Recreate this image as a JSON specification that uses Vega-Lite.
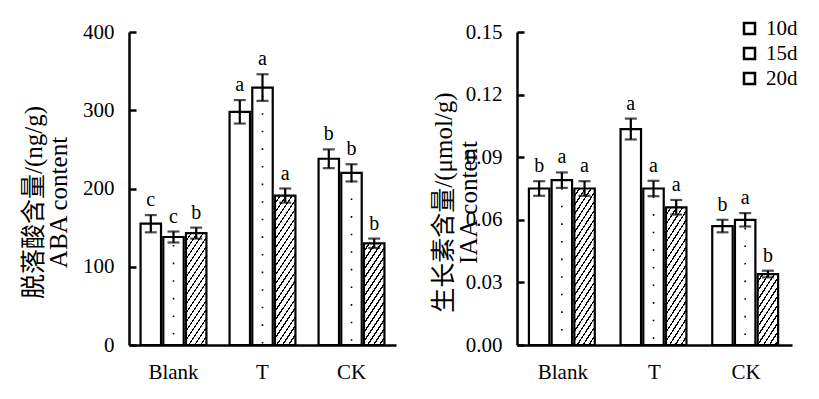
{
  "$schema": "https://vega.github.io/schema/vega-lite/v6.json",
  "padding": {"left": 21, "top": 18, "right": 5, "bottom": 5},
  "background": "#ffffff",
  "config": {
    "view": {"stroke": null},
    "font": "Liberation Serif, Noto Sans CJK SC",
    "text": {"font": "Liberation Serif"},
    "legend": {"labelFont": "Liberation Serif"},
    "axis": {
      "domainColor": "#000", "domainWidth": 2.5, "tickColor": "#000", "tickWidth": 2.5,
      "labelFont": "Liberation Serif", "titleFont": "Liberation Serif, Noto Sans CJK SC",
      "labelColor": "#000", "titleColor": "#000", "titleFontWeight": "normal", "grid": false
    },
    "axisX": {"ticks": false, "labelFontSize": 21, "labelPadding": 16, "labelAngle": 0, "title": null},
    "axisY": {
      "tickSize": -7, "labelFontSize": 21, "labelPadding": 22,
      "titleFontSize": 25, "titleLineHeight": 25, "titleAngle": -90,
      "titleBaseline": "middle", "titleAlign": "center"
    }
  },
  "spacing": 35,
  "resolve": {"scale": {"fill": "independent"}, "legend": {"fill": "independent"}},
  "hconcat": [
    {
      "width": 267,
      "height": 313,
      "data": {"values": [
        {"g": "Blank", "day": "10d", "v": 155, "lo": 144, "hi": 166, "sig": "c"},
        {"g": "Blank", "day": "15d", "v": 138, "lo": 131, "hi": 145, "sig": "c"},
        {"g": "Blank", "day": "20d", "v": 143, "lo": 136, "hi": 150, "sig": "b"},
        {"g": "T", "day": "10d", "v": 298, "lo": 283, "hi": 313, "sig": "a"},
        {"g": "T", "day": "15d", "v": 329, "lo": 312, "hi": 346, "sig": "a"},
        {"g": "T", "day": "20d", "v": 191, "lo": 182, "hi": 200, "sig": "a"},
        {"g": "CK", "day": "10d", "v": 238, "lo": 226, "hi": 250, "sig": "b"},
        {"g": "CK", "day": "15d", "v": 220, "lo": 209, "hi": 231, "sig": "b"},
        {"g": "CK", "day": "20d", "v": 130, "lo": 124, "hi": 136, "sig": "b"}
      ]},
      "encoding": {
        "x": {"field": "g", "type": "nominal", "sort": ["Blank", "T", "CK"],
              "scale": {"paddingInner": 0.26, "paddingOuter": 0.13}, "axis": {"title": null}},
        "xOffset": {"field": "day", "type": "nominal", "sort": ["10d", "15d", "20d"],
                    "scale": {"domain": ["10d", "15d", "20d"], "paddingInner": 0.1, "paddingOuter": 0}}
      },
      "layer": [
        {
          "mark": {"type": "bar", "stroke": "#000", "strokeWidth": 2.2},
          "encoding": {
            "y": {"field": "v", "type": "quantitative", "scale": {"domain": [0, 400], "nice": false},
                  "axis": {"values": [0, 100, 200, 300, 400], "title": ["脱落酸含量/(ng/g)", "ABA content"],
                           "titleX": -96, "titleY": 170}},
            "fill": {
              "field": "day", "type": "nominal",
              "scale": {"domain": ["10d", "15d", "20d"], "range": ["#fff", "#fff", "#fff"]},
              "legend": null,
              "condition": [
                {"test": "datum.g === 'Blank' && datum.day === '20d'",
                 "value": {"gradient": "linear", "x1": 0, "y1": 0, "x2": 0.451, "y2": 1.6459, "stops": [{"offset":0,"color":"#fff"},{"offset":0.0341,"color":"#fff"},{"offset":0.0341,"color":"#000"},{"offset":0.0455,"color":"#000"},{"offset":0.0455,"color":"#fff"},{"offset":0.0795,"color":"#fff"},{"offset":0.0795,"color":"#000"},{"offset":0.0909,"color":"#000"},{"offset":0.0909,"color":"#fff"},{"offset":0.125,"color":"#fff"},{"offset":0.125,"color":"#000"},{"offset":0.1364,"color":"#000"},{"offset":0.1364,"color":"#fff"},{"offset":0.1705,"color":"#fff"},{"offset":0.1705,"color":"#000"},{"offset":0.1818,"color":"#000"},{"offset":0.1818,"color":"#fff"},{"offset":0.2159,"color":"#fff"},{"offset":0.2159,"color":"#000"},{"offset":0.2273,"color":"#000"},{"offset":0.2273,"color":"#fff"},{"offset":0.2614,"color":"#fff"},{"offset":0.2614,"color":"#000"},{"offset":0.2727,"color":"#000"},{"offset":0.2727,"color":"#fff"},{"offset":0.3068,"color":"#fff"},{"offset":0.3068,"color":"#000"},{"offset":0.3182,"color":"#000"},{"offset":0.3182,"color":"#fff"},{"offset":0.3523,"color":"#fff"},{"offset":0.3523,"color":"#000"},{"offset":0.3636,"color":"#000"},{"offset":0.3636,"color":"#fff"},{"offset":0.3977,"color":"#fff"},{"offset":0.3977,"color":"#000"},{"offset":0.4091,"color":"#000"},{"offset":0.4091,"color":"#fff"},{"offset":0.4432,"color":"#fff"},{"offset":0.4432,"color":"#000"},{"offset":0.4545,"color":"#000"},{"offset":0.4545,"color":"#fff"},{"offset":0.4886,"color":"#fff"},{"offset":0.4886,"color":"#000"},{"offset":0.5,"color":"#000"},{"offset":0.5,"color":"#fff"},{"offset":0.5341,"color":"#fff"},{"offset":0.5341,"color":"#000"},{"offset":0.5455,"color":"#000"},{"offset":0.5455,"color":"#fff"},{"offset":0.5795,"color":"#fff"},{"offset":0.5795,"color":"#000"},{"offset":0.5909,"color":"#000"},{"offset":0.5909,"color":"#fff"},{"offset":0.625,"color":"#fff"},{"offset":0.625,"color":"#000"},{"offset":0.6364,"color":"#000"},{"offset":0.6364,"color":"#fff"},{"offset":0.6705,"color":"#fff"},{"offset":0.6705,"color":"#000"},{"offset":0.6818,"color":"#000"},{"offset":0.6818,"color":"#fff"},{"offset":0.7159,"color":"#fff"},{"offset":0.7159,"color":"#000"},{"offset":0.7273,"color":"#000"},{"offset":0.7273,"color":"#fff"},{"offset":0.7614,"color":"#fff"},{"offset":0.7614,"color":"#000"},{"offset":0.7727,"color":"#000"},{"offset":0.7727,"color":"#fff"},{"offset":0.8068,"color":"#fff"},{"offset":0.8068,"color":"#000"},{"offset":0.8182,"color":"#000"},{"offset":0.8182,"color":"#fff"},{"offset":0.8523,"color":"#fff"},{"offset":0.8523,"color":"#000"},{"offset":0.8636,"color":"#000"},{"offset":0.8636,"color":"#fff"},{"offset":0.8977,"color":"#fff"},{"offset":0.8977,"color":"#000"},{"offset":0.9091,"color":"#000"},{"offset":0.9091,"color":"#fff"},{"offset":0.9432,"color":"#fff"},{"offset":0.9432,"color":"#000"},{"offset":0.9545,"color":"#000"},{"offset":0.9545,"color":"#fff"},{"offset":0.9886,"color":"#fff"},{"offset":0.9886,"color":"#000"},{"offset":1,"color":"#000"}]}},
                {"test": "datum.g === 'T' && datum.day === '20d'",
                 "value": {"gradient": "linear", "x1": 0, "y1": 0, "x2": 0.2607, "y2": 1.271, "stops": [{"offset":0,"color":"#fff"},{"offset":0.0341,"color":"#fff"},{"offset":0.0341,"color":"#000"},{"offset":0.0455,"color":"#000"},{"offset":0.0455,"color":"#fff"},{"offset":0.0795,"color":"#fff"},{"offset":0.0795,"color":"#000"},{"offset":0.0909,"color":"#000"},{"offset":0.0909,"color":"#fff"},{"offset":0.125,"color":"#fff"},{"offset":0.125,"color":"#000"},{"offset":0.1364,"color":"#000"},{"offset":0.1364,"color":"#fff"},{"offset":0.1705,"color":"#fff"},{"offset":0.1705,"color":"#000"},{"offset":0.1818,"color":"#000"},{"offset":0.1818,"color":"#fff"},{"offset":0.2159,"color":"#fff"},{"offset":0.2159,"color":"#000"},{"offset":0.2273,"color":"#000"},{"offset":0.2273,"color":"#fff"},{"offset":0.2614,"color":"#fff"},{"offset":0.2614,"color":"#000"},{"offset":0.2727,"color":"#000"},{"offset":0.2727,"color":"#fff"},{"offset":0.3068,"color":"#fff"},{"offset":0.3068,"color":"#000"},{"offset":0.3182,"color":"#000"},{"offset":0.3182,"color":"#fff"},{"offset":0.3523,"color":"#fff"},{"offset":0.3523,"color":"#000"},{"offset":0.3636,"color":"#000"},{"offset":0.3636,"color":"#fff"},{"offset":0.3977,"color":"#fff"},{"offset":0.3977,"color":"#000"},{"offset":0.4091,"color":"#000"},{"offset":0.4091,"color":"#fff"},{"offset":0.4432,"color":"#fff"},{"offset":0.4432,"color":"#000"},{"offset":0.4545,"color":"#000"},{"offset":0.4545,"color":"#fff"},{"offset":0.4886,"color":"#fff"},{"offset":0.4886,"color":"#000"},{"offset":0.5,"color":"#000"},{"offset":0.5,"color":"#fff"},{"offset":0.5341,"color":"#fff"},{"offset":0.5341,"color":"#000"},{"offset":0.5455,"color":"#000"},{"offset":0.5455,"color":"#fff"},{"offset":0.5795,"color":"#fff"},{"offset":0.5795,"color":"#000"},{"offset":0.5909,"color":"#000"},{"offset":0.5909,"color":"#fff"},{"offset":0.625,"color":"#fff"},{"offset":0.625,"color":"#000"},{"offset":0.6364,"color":"#000"},{"offset":0.6364,"color":"#fff"},{"offset":0.6705,"color":"#fff"},{"offset":0.6705,"color":"#000"},{"offset":0.6818,"color":"#000"},{"offset":0.6818,"color":"#fff"},{"offset":0.7159,"color":"#fff"},{"offset":0.7159,"color":"#000"},{"offset":0.7273,"color":"#000"},{"offset":0.7273,"color":"#fff"},{"offset":0.7614,"color":"#fff"},{"offset":0.7614,"color":"#000"},{"offset":0.7727,"color":"#000"},{"offset":0.7727,"color":"#fff"},{"offset":0.8068,"color":"#fff"},{"offset":0.8068,"color":"#000"},{"offset":0.8182,"color":"#000"},{"offset":0.8182,"color":"#fff"},{"offset":0.8523,"color":"#fff"},{"offset":0.8523,"color":"#000"},{"offset":0.8636,"color":"#000"},{"offset":0.8636,"color":"#fff"},{"offset":0.8977,"color":"#fff"},{"offset":0.8977,"color":"#000"},{"offset":0.9091,"color":"#000"},{"offset":0.9091,"color":"#fff"},{"offset":0.9432,"color":"#fff"},{"offset":0.9432,"color":"#000"},{"offset":0.9545,"color":"#000"},{"offset":0.9545,"color":"#fff"},{"offset":0.9886,"color":"#fff"},{"offset":0.9886,"color":"#000"},{"offset":1,"color":"#000"}]}},
                {"test": "datum.g === 'CK' && datum.day === '20d'",
                 "value": {"gradient": "linear", "x1": 0, "y1": 0, "x2": 0.5381, "y2": 1.7847, "stops": [{"offset":0,"color":"#fff"},{"offset":0.0341,"color":"#fff"},{"offset":0.0341,"color":"#000"},{"offset":0.0455,"color":"#000"},{"offset":0.0455,"color":"#fff"},{"offset":0.0795,"color":"#fff"},{"offset":0.0795,"color":"#000"},{"offset":0.0909,"color":"#000"},{"offset":0.0909,"color":"#fff"},{"offset":0.125,"color":"#fff"},{"offset":0.125,"color":"#000"},{"offset":0.1364,"color":"#000"},{"offset":0.1364,"color":"#fff"},{"offset":0.1705,"color":"#fff"},{"offset":0.1705,"color":"#000"},{"offset":0.1818,"color":"#000"},{"offset":0.1818,"color":"#fff"},{"offset":0.2159,"color":"#fff"},{"offset":0.2159,"color":"#000"},{"offset":0.2273,"color":"#000"},{"offset":0.2273,"color":"#fff"},{"offset":0.2614,"color":"#fff"},{"offset":0.2614,"color":"#000"},{"offset":0.2727,"color":"#000"},{"offset":0.2727,"color":"#fff"},{"offset":0.3068,"color":"#fff"},{"offset":0.3068,"color":"#000"},{"offset":0.3182,"color":"#000"},{"offset":0.3182,"color":"#fff"},{"offset":0.3523,"color":"#fff"},{"offset":0.3523,"color":"#000"},{"offset":0.3636,"color":"#000"},{"offset":0.3636,"color":"#fff"},{"offset":0.3977,"color":"#fff"},{"offset":0.3977,"color":"#000"},{"offset":0.4091,"color":"#000"},{"offset":0.4091,"color":"#fff"},{"offset":0.4432,"color":"#fff"},{"offset":0.4432,"color":"#000"},{"offset":0.4545,"color":"#000"},{"offset":0.4545,"color":"#fff"},{"offset":0.4886,"color":"#fff"},{"offset":0.4886,"color":"#000"},{"offset":0.5,"color":"#000"},{"offset":0.5,"color":"#fff"},{"offset":0.5341,"color":"#fff"},{"offset":0.5341,"color":"#000"},{"offset":0.5455,"color":"#000"},{"offset":0.5455,"color":"#fff"},{"offset":0.5795,"color":"#fff"},{"offset":0.5795,"color":"#000"},{"offset":0.5909,"color":"#000"},{"offset":0.5909,"color":"#fff"},{"offset":0.625,"color":"#fff"},{"offset":0.625,"color":"#000"},{"offset":0.6364,"color":"#000"},{"offset":0.6364,"color":"#fff"},{"offset":0.6705,"color":"#fff"},{"offset":0.6705,"color":"#000"},{"offset":0.6818,"color":"#000"},{"offset":0.6818,"color":"#fff"},{"offset":0.7159,"color":"#fff"},{"offset":0.7159,"color":"#000"},{"offset":0.7273,"color":"#000"},{"offset":0.7273,"color":"#fff"},{"offset":0.7614,"color":"#fff"},{"offset":0.7614,"color":"#000"},{"offset":0.7727,"color":"#000"},{"offset":0.7727,"color":"#fff"},{"offset":0.8068,"color":"#fff"},{"offset":0.8068,"color":"#000"},{"offset":0.8182,"color":"#000"},{"offset":0.8182,"color":"#fff"},{"offset":0.8523,"color":"#fff"},{"offset":0.8523,"color":"#000"},{"offset":0.8636,"color":"#000"},{"offset":0.8636,"color":"#fff"},{"offset":0.8977,"color":"#fff"},{"offset":0.8977,"color":"#000"},{"offset":0.9091,"color":"#000"},{"offset":0.9091,"color":"#fff"},{"offset":0.9432,"color":"#fff"},{"offset":0.9432,"color":"#000"},{"offset":0.9545,"color":"#000"},{"offset":0.9545,"color":"#fff"},{"offset":0.9886,"color":"#fff"},{"offset":0.9886,"color":"#000"},{"offset":1,"color":"#000"}]}}
              ]
            }
          }
        },
        {
          "transform": [{"filter": "datum.day === '15d'"}],
          "mark": {"type": "rule", "color": "#000", "strokeWidth": 1.6, "strokeDash": [1.6, 16], "strokeDashOffset": -8},
          "encoding": {"y": {"field": "v", "type": "quantitative"}, "y2": {"datum": 0}}
        },
        {
          "mark": {"type": "rule", "color": "#000", "strokeWidth": 2.2},
          "encoding": {"y": {"field": "lo", "type": "quantitative"}, "y2": {"field": "hi"}}
        },
        {
          "mark": {"type": "tick", "color": "#000", "size": 12, "thickness": 2.2},
          "encoding": {"y": {"field": "lo", "type": "quantitative"}}
        },
        {
          "mark": {"type": "tick", "color": "#000", "size": 12, "thickness": 2.2},
          "encoding": {"y": {"field": "hi", "type": "quantitative"}}
        },
        {
          "mark": {"type": "text", "font": "Liberation Serif", "fontSize": 20, "baseline": "alphabetic", "dy": -9, "color": "#000"},
          "encoding": {"y": {"field": "hi", "type": "quantitative"}, "text": {"field": "sig", "type": "nominal"}}
        }
      ]
    },
    {
      "width": 275,
      "height": 313,
      "data": {"values": [
        {"g": "Blank", "day": "10d", "v": 0.075, "lo": 0.0715, "hi": 0.0785, "sig": "b"},
        {"g": "Blank", "day": "15d", "v": 0.079, "lo": 0.0753, "hi": 0.0827, "sig": "a"},
        {"g": "Blank", "day": "20d", "v": 0.075, "lo": 0.0715, "hi": 0.0785, "sig": "a"},
        {"g": "T", "day": "10d", "v": 0.1035, "lo": 0.0985, "hi": 0.1085, "sig": "a"},
        {"g": "T", "day": "15d", "v": 0.075, "lo": 0.0713, "hi": 0.0787, "sig": "a"},
        {"g": "T", "day": "20d", "v": 0.066, "lo": 0.0625, "hi": 0.0695, "sig": "a"},
        {"g": "CK", "day": "10d", "v": 0.057, "lo": 0.054, "hi": 0.06, "sig": "b"},
        {"g": "CK", "day": "15d", "v": 0.06, "lo": 0.0568, "hi": 0.0632, "sig": "a"},
        {"g": "CK", "day": "20d", "v": 0.034, "lo": 0.0324, "hi": 0.0356, "sig": "b"}
      ]},
      "encoding": {
        "x": {"field": "g", "type": "nominal", "sort": ["Blank", "T", "CK"],
              "scale": {"paddingInner": 0.26, "paddingOuter": 0.13}, "axis": {"title": null}},
        "xOffset": {"field": "day", "type": "nominal", "sort": ["10d", "15d", "20d"],
                    "scale": {"domain": ["10d", "15d", "20d"], "paddingInner": 0.1, "paddingOuter": 0}}
      },
      "layer": [
        {
          "mark": {"type": "bar", "stroke": "#000", "strokeWidth": 2.2},
          "encoding": {
            "y": {"field": "v", "type": "quantitative", "scale": {"domain": [0, 0.15], "nice": false},
                  "axis": {"values": [0, 0.03, 0.06, 0.09, 0.12, 0.15], "format": ".2f",
                           "title": ["生长素含量/(μmol/g)", "IAA content"], "titleX": -74, "titleY": 170}},
            "fill": {
              "field": "day", "type": "nominal",
              "scale": {"domain": ["10d", "15d", "20d"], "range": ["#fff", "#fff", "#fff"]},
              "legend": {
                "title": null, "orient": "none", "legendX": 222, "legendY": -14,
                "symbolType": "square", "symbolSize": 121, "symbolStrokeWidth": 2.5, "symbolStrokeColor": "#000",
                "labelFont": "Liberation Serif", "labelFontSize": 21, "labelColor": "#000", "rowPadding": 3, "labelOffset": 6,
                "encode": {"symbols": {"update": {
                  "stroke": {"value": "#000"},
                  "fill": [
                    {"test": "datum.value === '15d'",
                     "value": {"gradient": "radial", "x1": 0.5, "y1": 0.5, "r1": 0, "x2": 0.5, "y2": 0.5, "r2": 0.5,
                               "stops": [{"offset": 0, "color": "#000"}, {"offset": 0.25, "color": "#000"}, {"offset": 0.25, "color": "#fff"}, {"offset": 1, "color": "#fff"}]}},
                    {"test": "datum.value === '20d'",
                     "value": {"gradient": "linear", "x1": 0, "y1": 0, "x2": 8.3078, "y2": 5.5385, "stops": [{"offset":0,"color":"#fff"},{"offset":0.0341,"color":"#fff"},{"offset":0.0341,"color":"#000"},{"offset":0.0455,"color":"#000"},{"offset":0.0455,"color":"#fff"},{"offset":0.0795,"color":"#fff"},{"offset":0.0795,"color":"#000"},{"offset":0.0909,"color":"#000"},{"offset":0.0909,"color":"#fff"},{"offset":0.125,"color":"#fff"},{"offset":0.125,"color":"#000"},{"offset":0.1364,"color":"#000"},{"offset":0.1364,"color":"#fff"},{"offset":0.1705,"color":"#fff"},{"offset":0.1705,"color":"#000"},{"offset":0.1818,"color":"#000"},{"offset":0.1818,"color":"#fff"},{"offset":1,"color":"#fff"}]}},
                    {"value": "#fff"}
                  ]
                }}}
              },
              "condition": [
                {"test": "datum.g === 'Blank' && datum.day === '20d'",
                 "value": {"gradient": "linear", "x1": 0, "y1": 0, "x2": 0.2453, "y2": 1.2157, "stops": [{"offset":0,"color":"#fff"},{"offset":0.0341,"color":"#fff"},{"offset":0.0341,"color":"#000"},{"offset":0.0455,"color":"#000"},{"offset":0.0455,"color":"#fff"},{"offset":0.0795,"color":"#fff"},{"offset":0.0795,"color":"#000"},{"offset":0.0909,"color":"#000"},{"offset":0.0909,"color":"#fff"},{"offset":0.125,"color":"#fff"},{"offset":0.125,"color":"#000"},{"offset":0.1364,"color":"#000"},{"offset":0.1364,"color":"#fff"},{"offset":0.1705,"color":"#fff"},{"offset":0.1705,"color":"#000"},{"offset":0.1818,"color":"#000"},{"offset":0.1818,"color":"#fff"},{"offset":0.2159,"color":"#fff"},{"offset":0.2159,"color":"#000"},{"offset":0.2273,"color":"#000"},{"offset":0.2273,"color":"#fff"},{"offset":0.2614,"color":"#fff"},{"offset":0.2614,"color":"#000"},{"offset":0.2727,"color":"#000"},{"offset":0.2727,"color":"#fff"},{"offset":0.3068,"color":"#fff"},{"offset":0.3068,"color":"#000"},{"offset":0.3182,"color":"#000"},{"offset":0.3182,"color":"#fff"},{"offset":0.3523,"color":"#fff"},{"offset":0.3523,"color":"#000"},{"offset":0.3636,"color":"#000"},{"offset":0.3636,"color":"#fff"},{"offset":0.3977,"color":"#fff"},{"offset":0.3977,"color":"#000"},{"offset":0.4091,"color":"#000"},{"offset":0.4091,"color":"#fff"},{"offset":0.4432,"color":"#fff"},{"offset":0.4432,"color":"#000"},{"offset":0.4545,"color":"#000"},{"offset":0.4545,"color":"#fff"},{"offset":0.4886,"color":"#fff"},{"offset":0.4886,"color":"#000"},{"offset":0.5,"color":"#000"},{"offset":0.5,"color":"#fff"},{"offset":0.5341,"color":"#fff"},{"offset":0.5341,"color":"#000"},{"offset":0.5455,"color":"#000"},{"offset":0.5455,"color":"#fff"},{"offset":0.5795,"color":"#fff"},{"offset":0.5795,"color":"#000"},{"offset":0.5909,"color":"#000"},{"offset":0.5909,"color":"#fff"},{"offset":0.625,"color":"#fff"},{"offset":0.625,"color":"#000"},{"offset":0.6364,"color":"#000"},{"offset":0.6364,"color":"#fff"},{"offset":0.6705,"color":"#fff"},{"offset":0.6705,"color":"#000"},{"offset":0.6818,"color":"#000"},{"offset":0.6818,"color":"#fff"},{"offset":0.7159,"color":"#fff"},{"offset":0.7159,"color":"#000"},{"offset":0.7273,"color":"#000"},{"offset":0.7273,"color":"#fff"},{"offset":0.7614,"color":"#fff"},{"offset":0.7614,"color":"#000"},{"offset":0.7727,"color":"#000"},{"offset":0.7727,"color":"#fff"},{"offset":0.8068,"color":"#fff"},{"offset":0.8068,"color":"#000"},{"offset":0.8182,"color":"#000"},{"offset":0.8182,"color":"#fff"},{"offset":0.8523,"color":"#fff"},{"offset":0.8523,"color":"#000"},{"offset":0.8636,"color":"#000"},{"offset":0.8636,"color":"#fff"},{"offset":0.8977,"color":"#fff"},{"offset":0.8977,"color":"#000"},{"offset":0.9091,"color":"#000"},{"offset":0.9091,"color":"#fff"},{"offset":0.9432,"color":"#fff"},{"offset":0.9432,"color":"#000"},{"offset":0.9545,"color":"#000"},{"offset":0.9545,"color":"#fff"},{"offset":0.9886,"color":"#fff"},{"offset":0.9886,"color":"#000"},{"offset":1,"color":"#000"}]}},
                {"test": "datum.g === 'T' && datum.day === '20d'",
                 "value": {"gradient": "linear", "x1": 0, "y1": 0, "x2": 0.3133, "y2": 1.3661, "stops": [{"offset":0,"color":"#fff"},{"offset":0.0341,"color":"#fff"},{"offset":0.0341,"color":"#000"},{"offset":0.0455,"color":"#000"},{"offset":0.0455,"color":"#fff"},{"offset":0.0795,"color":"#fff"},{"offset":0.0795,"color":"#000"},{"offset":0.0909,"color":"#000"},{"offset":0.0909,"color":"#fff"},{"offset":0.125,"color":"#fff"},{"offset":0.125,"color":"#000"},{"offset":0.1364,"color":"#000"},{"offset":0.1364,"color":"#fff"},{"offset":0.1705,"color":"#fff"},{"offset":0.1705,"color":"#000"},{"offset":0.1818,"color":"#000"},{"offset":0.1818,"color":"#fff"},{"offset":0.2159,"color":"#fff"},{"offset":0.2159,"color":"#000"},{"offset":0.2273,"color":"#000"},{"offset":0.2273,"color":"#fff"},{"offset":0.2614,"color":"#fff"},{"offset":0.2614,"color":"#000"},{"offset":0.2727,"color":"#000"},{"offset":0.2727,"color":"#fff"},{"offset":0.3068,"color":"#fff"},{"offset":0.3068,"color":"#000"},{"offset":0.3182,"color":"#000"},{"offset":0.3182,"color":"#fff"},{"offset":0.3523,"color":"#fff"},{"offset":0.3523,"color":"#000"},{"offset":0.3636,"color":"#000"},{"offset":0.3636,"color":"#fff"},{"offset":0.3977,"color":"#fff"},{"offset":0.3977,"color":"#000"},{"offset":0.4091,"color":"#000"},{"offset":0.4091,"color":"#fff"},{"offset":0.4432,"color":"#fff"},{"offset":0.4432,"color":"#000"},{"offset":0.4545,"color":"#000"},{"offset":0.4545,"color":"#fff"},{"offset":0.4886,"color":"#fff"},{"offset":0.4886,"color":"#000"},{"offset":0.5,"color":"#000"},{"offset":0.5,"color":"#fff"},{"offset":0.5341,"color":"#fff"},{"offset":0.5341,"color":"#000"},{"offset":0.5455,"color":"#000"},{"offset":0.5455,"color":"#fff"},{"offset":0.5795,"color":"#fff"},{"offset":0.5795,"color":"#000"},{"offset":0.5909,"color":"#000"},{"offset":0.5909,"color":"#fff"},{"offset":0.625,"color":"#fff"},{"offset":0.625,"color":"#000"},{"offset":0.6364,"color":"#000"},{"offset":0.6364,"color":"#fff"},{"offset":0.6705,"color":"#fff"},{"offset":0.6705,"color":"#000"},{"offset":0.6818,"color":"#000"},{"offset":0.6818,"color":"#fff"},{"offset":0.7159,"color":"#fff"},{"offset":0.7159,"color":"#000"},{"offset":0.7273,"color":"#000"},{"offset":0.7273,"color":"#fff"},{"offset":0.7614,"color":"#fff"},{"offset":0.7614,"color":"#000"},{"offset":0.7727,"color":"#000"},{"offset":0.7727,"color":"#fff"},{"offset":0.8068,"color":"#fff"},{"offset":0.8068,"color":"#000"},{"offset":0.8182,"color":"#000"},{"offset":0.8182,"color":"#fff"},{"offset":0.8523,"color":"#fff"},{"offset":0.8523,"color":"#000"},{"offset":0.8636,"color":"#000"},{"offset":0.8636,"color":"#fff"},{"offset":0.8977,"color":"#fff"},{"offset":0.8977,"color":"#000"},{"offset":0.9091,"color":"#000"},{"offset":0.9091,"color":"#fff"},{"offset":0.9432,"color":"#fff"},{"offset":0.9432,"color":"#000"},{"offset":0.9545,"color":"#000"},{"offset":0.9545,"color":"#fff"},{"offset":0.9886,"color":"#fff"},{"offset":0.9886,"color":"#000"},{"offset":1,"color":"#000"}]}},
                {"test": "datum.g === 'CK' && datum.day === '20d'",
                 "value": {"gradient": "linear", "x1": 0, "y1": 0, "x2": 1.0379, "y2": 2.3305, "stops": [{"offset":0,"color":"#fff"},{"offset":0.0341,"color":"#fff"},{"offset":0.0341,"color":"#000"},{"offset":0.0455,"color":"#000"},{"offset":0.0455,"color":"#fff"},{"offset":0.0795,"color":"#fff"},{"offset":0.0795,"color":"#000"},{"offset":0.0909,"color":"#000"},{"offset":0.0909,"color":"#fff"},{"offset":0.125,"color":"#fff"},{"offset":0.125,"color":"#000"},{"offset":0.1364,"color":"#000"},{"offset":0.1364,"color":"#fff"},{"offset":0.1705,"color":"#fff"},{"offset":0.1705,"color":"#000"},{"offset":0.1818,"color":"#000"},{"offset":0.1818,"color":"#fff"},{"offset":0.2159,"color":"#fff"},{"offset":0.2159,"color":"#000"},{"offset":0.2273,"color":"#000"},{"offset":0.2273,"color":"#fff"},{"offset":0.2614,"color":"#fff"},{"offset":0.2614,"color":"#000"},{"offset":0.2727,"color":"#000"},{"offset":0.2727,"color":"#fff"},{"offset":0.3068,"color":"#fff"},{"offset":0.3068,"color":"#000"},{"offset":0.3182,"color":"#000"},{"offset":0.3182,"color":"#fff"},{"offset":0.3523,"color":"#fff"},{"offset":0.3523,"color":"#000"},{"offset":0.3636,"color":"#000"},{"offset":0.3636,"color":"#fff"},{"offset":0.3977,"color":"#fff"},{"offset":0.3977,"color":"#000"},{"offset":0.4091,"color":"#000"},{"offset":0.4091,"color":"#fff"},{"offset":0.4432,"color":"#fff"},{"offset":0.4432,"color":"#000"},{"offset":0.4545,"color":"#000"},{"offset":0.4545,"color":"#fff"},{"offset":0.4886,"color":"#fff"},{"offset":0.4886,"color":"#000"},{"offset":0.5,"color":"#000"},{"offset":0.5,"color":"#fff"},{"offset":0.5341,"color":"#fff"},{"offset":0.5341,"color":"#000"},{"offset":0.5455,"color":"#000"},{"offset":0.5455,"color":"#fff"},{"offset":0.5795,"color":"#fff"},{"offset":0.5795,"color":"#000"},{"offset":0.5909,"color":"#000"},{"offset":0.5909,"color":"#fff"},{"offset":0.625,"color":"#fff"},{"offset":0.625,"color":"#000"},{"offset":0.6364,"color":"#000"},{"offset":0.6364,"color":"#fff"},{"offset":0.6705,"color":"#fff"},{"offset":0.6705,"color":"#000"},{"offset":0.6818,"color":"#000"},{"offset":0.6818,"color":"#fff"},{"offset":0.7159,"color":"#fff"},{"offset":0.7159,"color":"#000"},{"offset":0.7273,"color":"#000"},{"offset":0.7273,"color":"#fff"},{"offset":0.7614,"color":"#fff"},{"offset":0.7614,"color":"#000"},{"offset":0.7727,"color":"#000"},{"offset":0.7727,"color":"#fff"},{"offset":0.8068,"color":"#fff"},{"offset":0.8068,"color":"#000"},{"offset":0.8182,"color":"#000"},{"offset":0.8182,"color":"#fff"},{"offset":0.8523,"color":"#fff"},{"offset":0.8523,"color":"#000"},{"offset":0.8636,"color":"#000"},{"offset":0.8636,"color":"#fff"},{"offset":0.8977,"color":"#fff"},{"offset":0.8977,"color":"#000"},{"offset":0.9091,"color":"#000"},{"offset":0.9091,"color":"#fff"},{"offset":0.9432,"color":"#fff"},{"offset":0.9432,"color":"#000"},{"offset":0.9545,"color":"#000"},{"offset":0.9545,"color":"#fff"},{"offset":0.9886,"color":"#fff"},{"offset":0.9886,"color":"#000"},{"offset":1,"color":"#000"}]}}
              ]
            }
          }
        },
        {
          "transform": [{"filter": "datum.day === '15d'"}],
          "mark": {"type": "rule", "color": "#000", "strokeWidth": 1.6, "strokeDash": [1.6, 16], "strokeDashOffset": -8},
          "encoding": {"y": {"field": "v", "type": "quantitative"}, "y2": {"datum": 0}}
        },
        {
          "mark": {"type": "rule", "color": "#000", "strokeWidth": 2.2},
          "encoding": {"y": {"field": "lo", "type": "quantitative"}, "y2": {"field": "hi"}}
        },
        {
          "mark": {"type": "tick", "color": "#000", "size": 12, "thickness": 2.2},
          "encoding": {"y": {"field": "lo", "type": "quantitative"}}
        },
        {
          "mark": {"type": "tick", "color": "#000", "size": 12, "thickness": 2.2},
          "encoding": {"y": {"field": "hi", "type": "quantitative"}}
        },
        {
          "mark": {"type": "text", "font": "Liberation Serif", "fontSize": 20, "baseline": "alphabetic", "dy": -9, "color": "#000"},
          "encoding": {"y": {"field": "hi", "type": "quantitative"}, "text": {"field": "sig", "type": "nominal"}}
        }
      ]
    }
  ]
}
